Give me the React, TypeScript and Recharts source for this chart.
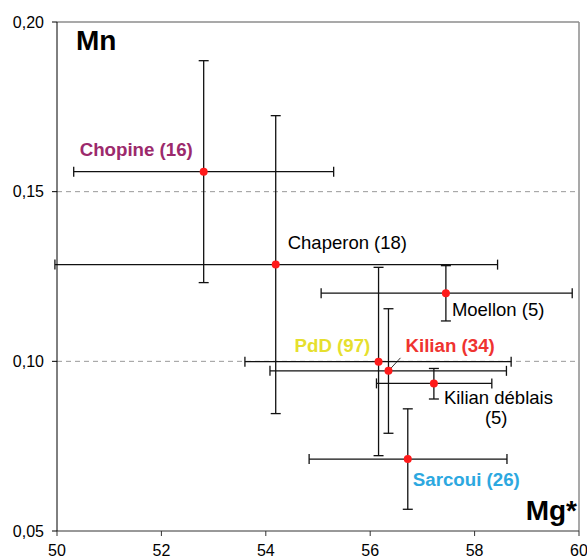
import React from 'react'
import { ScatterChart, Scatter, XAxis, YAxis, ErrorBar, ReferenceLine } from 'recharts'

// Mg* / Mn means with min-max ranges per site
const sites = ['Chopine (16)', 'Chaperon (18)', 'Moellon (5)', 'PdD (97)', 'Kilian (34)', 'Kilian déblais\n(5)', 'Sarcoui (26)']
const mgMean = [52.81, 54.19, 57.45, 56.16, 56.35, 57.22, 56.72]
const mgLow = [50.32, 49.96, 55.06, 53.6, 54.08, 56.12, 54.83]
const mgHigh = [55.3, 58.44, 59.87, 58.7, 58.61, 58.33, 58.62]
const mnMean = [0.1559, 0.1285, 0.1201, 0.0999, 0.0972, 0.0935, 0.0712]
const mnLow = [0.1232, 0.0846, 0.1119, 0.0722, 0.0788, 0.0889, 0.0564]
const mnHigh = [0.1886, 0.1724, 0.1282, 0.1277, 0.1155, 0.0979, 0.086]

const xTicks = [50, 52, 54, 56, 58, 60]
const yTicks = [0.05, 0.1, 0.15, 0.2]

// label styling, kept apart from the data
const labelColor = ['#9c2a6c', '#000', '#000', '#e6df2e', '#ef3330', '#000', '#2ca8e0']
const labelBold = [true, false, false, true, true, false, true]
const labelOffset = [[-124, -16], [12, -16], [6, 23], [-84, -10], [17, -19], [10, 21], [5, 27]]

const font = '"Liberation Sans", Arial, sans-serif'

const data = sites.map((name, i) => ({
  i,
  name,
  mg: mgMean[i],
  mn: mnMean[i],
  mgErr: [mgMean[i] - mgLow[i], mgHigh[i] - mgMean[i]],
  mnErr: [mnMean[i] - mnLow[i], mnHigh[i] - mnMean[i]],
}))

const Dot = (props: any) => {
  const { cx, cy, payload } = props
  const i = payload.i
  const [dx, dy] = labelOffset[i]
  const lines: string[] = payload.name.split('\n')
  const size = labelBold[i] ? 18.7 : 18.5
  return (
    <g>
      {i === 4 && <line x1={cx + 1} y1={cy - 1} x2={cx + 12} y2={cy - 13} stroke="#000" strokeWidth={0.8} />}
      <circle cx={cx} cy={cy} r={4} fill="#ff1a1a" />
      {lines.map((l, k) => (
        <text
          key={k}
          x={cx + dx + (k === 0 ? 0 : 41)}
          y={cy + dy + k * 19.5}
          fill={labelColor[i]}
          fontSize={size}
          fontWeight={labelBold[i] ? 'bold' : 'normal'}
          fontFamily={font}
        >
          {l}
        </text>
      ))}
    </g>
  )
}

export default function App() {
  const tickStyle = { fill: '#000', fontSize: 16, fontFamily: font }
  return (
    <div style={{ position: 'absolute', left: 0, top: 0, width: 587, height: 559 }}>
      <ScatterChart width={587} height={559} margin={{ top: 22, right: 8, left: 0, bottom: 0 }}>
        <XAxis
          type="number"
          dataKey="mg"
          domain={[50, 60]}
          ticks={xTicks}
          allowDataOverflow
          height={28}
          tickSize={5}
          tickMargin={9}
          axisLine={{ stroke: '#333' }}
          tickLine={{ stroke: '#333' }}
          tick={tickStyle}
          interval={0}
        />
        <YAxis
          type="number"
          dataKey="mn"
          domain={[0.05, 0.2]}
          ticks={yTicks}
          allowDataOverflow
          width={57}
          tickSize={5}
          tickMargin={8}
          axisLine={{ stroke: '#000' }}
          tickLine={{ stroke: '#000' }}
          tick={tickStyle}
          interval={0}
          tickFormatter={(v: number) => v.toFixed(2).replace('.', ',')}
        />
        <ReferenceLine y={0.1} stroke="#999" strokeDasharray="5 4" />
        <ReferenceLine y={0.15} stroke="#999" strokeDasharray="5 4" />
        <ReferenceLine y={0.2} stroke="#8c8c8c" strokeWidth={1.5} />
        <ReferenceLine x={60} stroke="#8c8c8c" strokeWidth={1.5} />
        <Scatter data={data} isAnimationActive={false} shape={() => <g />}>
          <ErrorBar dataKey="mgErr" direction="x" width={5} stroke="#111" strokeWidth={1.3} />
          <ErrorBar dataKey="mnErr" direction="y" width={5} stroke="#111" strokeWidth={1.3} />
        </Scatter>
        <Scatter data={data} isAnimationActive={false} shape={Dot} />
      </ScatterChart>
      <svg width={587} height={559} style={{ position: 'absolute', left: 0, top: 0, pointerEvents: 'none' }}>
        <text x={76} y={50} fontSize={28} fontWeight="bold" fontFamily={font} fill="#000">Mn</text>
        <text x={577} y={520} fontSize={28} fontWeight="bold" fontFamily={font} fill="#000" textAnchor="end">Mg*</text>
      </svg>
    </div>
  )
}
